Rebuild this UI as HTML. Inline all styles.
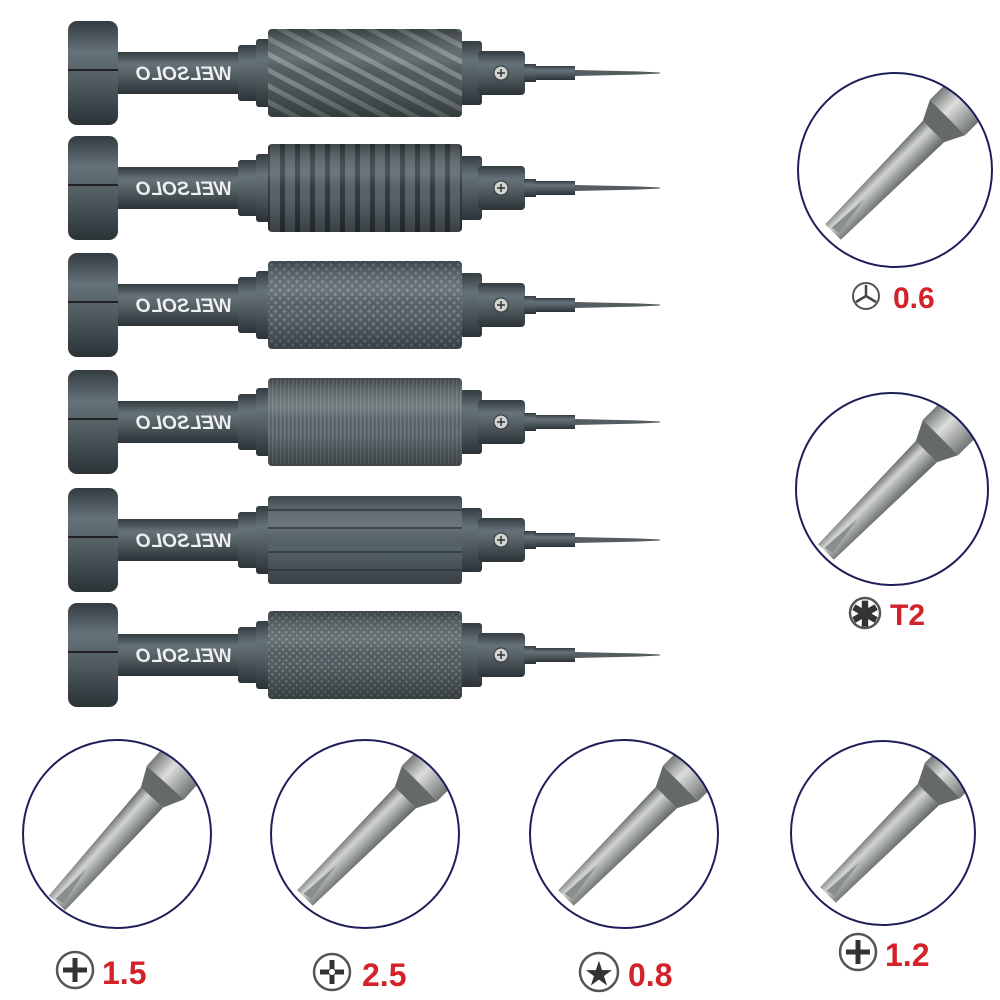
<!DOCTYPE html>
<html><head><meta charset="utf-8"><style>
html,body{margin:0;padding:0;background:#fff;}
svg{display:block;}
text{font-family:"Liberation Sans",sans-serif;font-weight:bold;}
</style></head><body>
<svg width="1000" height="1000" viewBox="0 0 1000 1000" xmlns="http://www.w3.org/2000/svg">
<defs>
 <linearGradient id="met" x1="0" y1="0" x2="0" y2="1">
  <stop offset="0" stop-color="#333c40"/><stop offset="0.3" stop-color="#66727a"/><stop offset="0.55" stop-color="#535e63"/><stop offset="1" stop-color="#2b3337"/>
 </linearGradient>
 <linearGradient id="shade" x1="0" y1="0" x2="0" y2="1">
  <stop offset="0" stop-color="#000" stop-opacity="0.3"/><stop offset="0.35" stop-color="#fff" stop-opacity="0.12"/><stop offset="0.6" stop-color="#000" stop-opacity="0"/><stop offset="1" stop-color="#000" stop-opacity="0.35"/>
 </linearGradient>
 <linearGradient id="steel" x1="0" y1="0" x2="0" y2="1">
  <stop offset="0" stop-color="#666b69"/><stop offset="0.35" stop-color="#d2d4d2"/><stop offset="0.6" stop-color="#a6aaa7"/><stop offset="1" stop-color="#626664"/>
 </linearGradient>
 <linearGradient id="steel2" x1="0" y1="0" x2="0" y2="1">
  <stop offset="0" stop-color="#767a78"/><stop offset="0.4" stop-color="#dcdedc"/><stop offset="1" stop-color="#707472"/>
 </linearGradient>
 <pattern id="p1" width="14" height="14" patternUnits="userSpaceOnUse" patternTransform="rotate(-62)">
  <rect width="14" height="14" fill="#505b5e"/><rect width="5" height="14" fill="#7d8886"/>
 </pattern>
 <pattern id="p2" width="15" height="10" patternUnits="userSpaceOnUse">
  <rect width="15" height="10" fill="#58636a"/><rect x="10" width="5" height="10" fill="#323b3f"/>
 </pattern>
 <pattern id="p3" width="6" height="6" patternUnits="userSpaceOnUse" patternTransform="rotate(45)">
  <rect width="6" height="6" fill="#55606a"/><rect width="3" height="3" fill="#7a8486"/>
 </pattern>
 <pattern id="p4" width="4" height="10" patternUnits="userSpaceOnUse">
  <rect width="4" height="10" fill="#5a656b"/><rect width="1.5" height="10" fill="#707a7e"/>
 </pattern>
 <pattern id="p6" width="5" height="5" patternUnits="userSpaceOnUse" patternTransform="rotate(45)">
  <rect width="5" height="5" fill="#515c60"/><rect width="2.5" height="2.5" fill="#767f82"/>
 </pattern>
 <g id="body">
  <rect x="118" y="-21" width="124" height="42" fill="url(#met)"/>
  <rect x="68" y="-52" width="50" height="104" rx="9" fill="url(#met)"/>
  <line x1="68" y1="-3" x2="118" y2="-3" stroke="#222" stroke-width="2"/>
  <rect x="238" y="-28" width="22" height="56" rx="3" fill="url(#met)"/>
  <rect x="256" y="-34" width="16" height="68" rx="3" fill="url(#met)"/>
  <rect x="460" y="-32" width="22" height="64" rx="3" fill="url(#met)"/>
  <rect x="478" y="-22" width="47" height="44" rx="4" fill="url(#met)"/>
  <circle cx="501" cy="0" r="7" fill="#cfd3d2" stroke="#333" stroke-width="1"/>
  <path d="M497 0H505M501 -4V4" stroke="#333" stroke-width="1.5"/>
  <rect x="524" y="-9" width="12" height="18" fill="url(#met)"/>
  <rect x="535" y="-7" width="40" height="14" fill="url(#met)"/>
  <path d="M575 -3L640 -1.5L660 -0.5L660 0.5L640 1.5L575 3Z" fill="#555d60"/>
  <text transform="translate(232,7) scale(-1,1)" font-size="19" fill="#eef0f0" font-style="italic">WELSOLO</text>
 </g>
 <g id="bit">
  <path d="M0 -11L142 -15L142 15L0 11Z" fill="url(#steel)"/>
  <path d="M142 -15L162 -25L162 25L142 15Z" fill="#656a68"/>
  <rect x="162" y="-25" width="150" height="50" fill="url(#steel2)"/>
  <path d="M2 -4L45 -1L4 5Z" fill="#8a8f8d"/>
 </g>
 <clipPath id="c1"><circle cx="895" cy="170" r="97"/></clipPath>
 <clipPath id="c2"><circle cx="892" cy="489" r="96"/></clipPath>
 <clipPath id="c3"><circle cx="117" cy="834" r="94"/></clipPath>
 <clipPath id="c4"><circle cx="365" cy="834" r="94"/></clipPath>
 <clipPath id="c5"><circle cx="624" cy="834" r="94"/></clipPath>
 <clipPath id="c6"><circle cx="883" cy="833" r="92"/></clipPath>
</defs>

<g transform="translate(0,73)"><use href="#body"/><rect x="268" y="-44" width="194" height="88" rx="4" fill="url(#p1)"/><rect x="268" y="-44" width="194" height="88" rx="4" fill="url(#shade)"/></g>
<g transform="translate(0,188)"><use href="#body"/><rect x="268" y="-44" width="194" height="88" rx="4" fill="url(#p2)"/><rect x="268" y="-44" width="194" height="88" rx="4" fill="url(#shade)"/></g>
<g transform="translate(0,305)"><use href="#body"/><rect x="268" y="-44" width="194" height="88" rx="4" fill="url(#p3)"/><rect x="268" y="-44" width="194" height="88" rx="4" fill="url(#shade)"/></g>
<g transform="translate(0,422)"><use href="#body"/><rect x="268" y="-44" width="194" height="88" rx="4" fill="url(#p4)"/><rect x="268" y="-44" width="194" height="88" rx="4" fill="url(#shade)"/></g>
<g transform="translate(0,540)"><use href="#body"/><rect x="268" y="-44" width="194" height="88" rx="3" fill="#56626a"/><rect x="268" y="-44" width="194" height="88" rx="3" fill="url(#shade)"/>
 <path d="M268 -30H462M268 -12H462M268 12H462M268 30H462" stroke="#2e373b" stroke-width="1.5"/></g>
<g transform="translate(0,655)"><use href="#body"/><rect x="268" y="-44" width="194" height="88" rx="4" fill="url(#p6)"/><rect x="268" y="-44" width="194" height="88" rx="4" fill="url(#shade)"/></g>

<g clip-path="url(#c1)"><use href="#bit" transform="translate(833,232) rotate(-45)"/></g>
<circle cx="895" cy="170" r="97" fill="none" stroke="#1e1f5a" stroke-width="2"/>
<g clip-path="url(#c2)"><use href="#bit" transform="translate(826,552) rotate(-45)"/></g>
<circle cx="892" cy="489" r="96" fill="none" stroke="#1e1f5a" stroke-width="2"/>
<g clip-path="url(#c3)"><use href="#bit" transform="translate(57,903) rotate(-48)"/></g>
<circle cx="117" cy="834" r="94" fill="none" stroke="#1e1f5a" stroke-width="2"/>
<g clip-path="url(#c4)"><use href="#bit" transform="translate(305,898) rotate(-45)"/></g>
<circle cx="365" cy="834" r="94" fill="none" stroke="#1e1f5a" stroke-width="2"/>
<g clip-path="url(#c5)"><use href="#bit" transform="translate(566,898) rotate(-45)"/></g>
<circle cx="624" cy="834" r="94" fill="none" stroke="#1e1f5a" stroke-width="2"/>
<g clip-path="url(#c6)"><use href="#bit" transform="translate(828,895) rotate(-45)"/></g>
<circle cx="883" cy="833" r="92" fill="none" stroke="#1e1f5a" stroke-width="2"/>

<circle cx="866" cy="296" r="13" fill="#fff" stroke="#555" stroke-width="2"/>
<path d="M866 296V285M866 296L876 302M866 296L856 302" stroke="#444" stroke-width="2.5"/>
<text x="893" y="308" font-size="30" fill="#d3222a">0.6</text>

<circle cx="865" cy="613" r="15" fill="#fff" stroke="#555" stroke-width="2.5"/>
<text x="865" y="626" font-size="34" fill="#333" text-anchor="middle">✱</text>
<text x="890" y="625" font-size="30" fill="#d3222a">T2</text>

<circle cx="75" cy="970" r="18" fill="#fff" stroke="#555" stroke-width="2.5"/>
<path d="M75 958V982M63 970H87" stroke="#333" stroke-width="5"/>
<text x="102" y="984" font-size="32" fill="#d3222a">1.5</text>

<circle cx="332" cy="972" r="18" fill="#fff" stroke="#555" stroke-width="2.5"/>
<path d="M332 960V984M320 972H344" stroke="#333" stroke-width="5"/>
<circle cx="332" cy="972" r="3" fill="#fff"/>
<text x="362" y="986" font-size="32" fill="#d3222a">2.5</text>

<circle cx="599" cy="972" r="19" fill="#fff" stroke="#555" stroke-width="2.5"/>
<text x="599" y="984" font-size="30" fill="#333" text-anchor="middle" font-family="DejaVu Sans">★</text>
<text x="628" y="986" font-size="32" fill="#d3222a">0.8</text>

<circle cx="858" cy="952" r="18" fill="#fff" stroke="#555" stroke-width="2.5"/>
<path d="M858 940V964M846 952H870" stroke="#333" stroke-width="5"/>
<text x="885" y="966" font-size="32" fill="#d3222a">1.2</text>
</svg>
</body></html>
